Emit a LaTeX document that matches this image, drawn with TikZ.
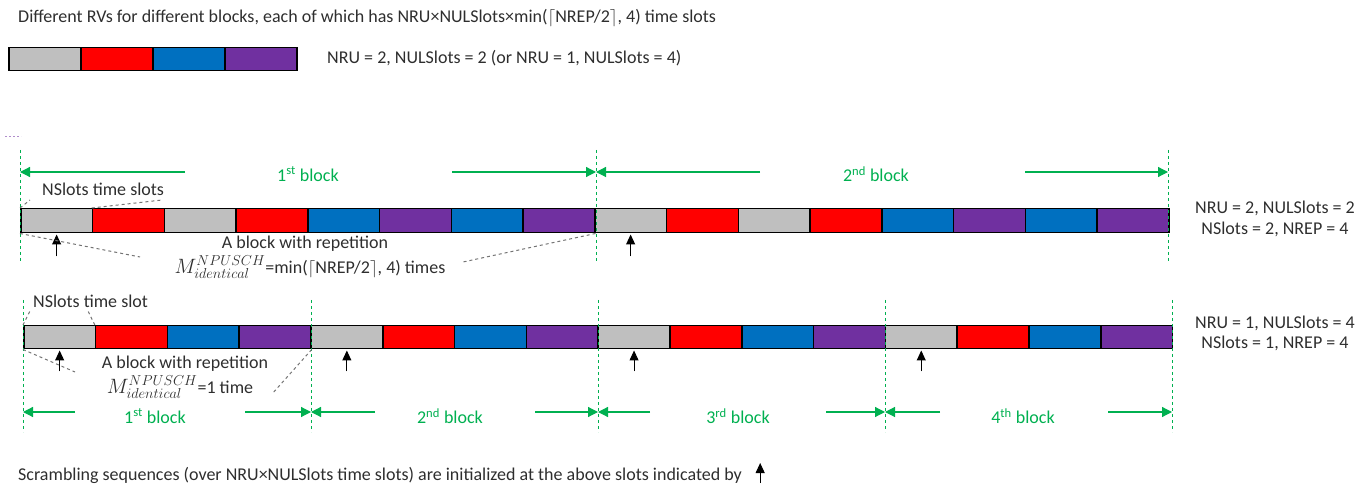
\documentclass[tikz,border=0pt]{standalone}
\usepackage{fontspec}
\setmainfont{Carlito}
\usetikzlibrary{arrows.meta}
\definecolor{cgray}{HTML}{BFBFBF}
\definecolor{cred}{HTML}{FF0000}
\definecolor{cblue}{HTML}{0070C0}
\definecolor{cpurple}{HTML}{7030A0}
\definecolor{cgreen}{HTML}{00B050}
\definecolor{ctext}{HTML}{2E2E2E}
\newcommand{\bigM}{{\fontsize{22}{24}\selectfont$M^{NPUSCH}_{identical}$}}
\begin{document}
\begin{tikzpicture}[x=1pt,y=-1pt, font=\fontsize{18}{21}\selectfont, text=ctext,
 cell/.style={draw=black, line width=1.5pt, inner sep=0pt, anchor=north west},
 gdash/.style={draw=cgreen, line width=0.8pt, dash pattern=on 3pt off 3pt},
 garr/.style={draw=cgreen, line width=1.2pt, -{Triangle[length=10pt,width=10pt]}},
 glabel/.style={text=cgreen, inner sep=0pt},
 kdash/.style={draw=black!55, line width=1pt, dash pattern=on 3pt off 3pt},
 uparr/.style={draw=black, line width=1pt, -{Triangle[length=10pt,width=9pt]}},
 txt/.style={inner sep=0pt}]
\useasboundingbox (0,0) rectangle (1369,486);

% title
\node[txt, anchor=west] (title) at (18,18) {Different RVs for different blocks, each of which has NRU×NULSlots×min($\lceil$NREP/2$\rceil$, 4) time slots};

% legend bar
\foreach \c [count=\i from 0] in {cgray,cred,cblue,cpurple}
  \node[cell, fill=\c, minimum width=72pt, minimum height=23pt] (l\i) at ({8+72*\i},47) {};
\node[txt, anchor=west] (legtxt) at (327,58) {NRU = 2, NULSlots = 2 (or NRU = 1, NULSlots = 4)};

% stray purple dashes
\draw[draw=cpurple!55, line width=0.8pt, dash pattern=on 2pt off 2pt] (5,136) -- (21,136);

% ---------- Row 1 ----------
\foreach \c [count=\i from 0] in {cgray,cred,cgray,cred,cblue,cpurple,cblue,cpurple,cgray,cred,cgray,cred,cblue,cpurple,cblue,cpurple}
  \node[cell, fill=\c, minimum width=71.75pt, minimum height=24pt] (a\i) at ({20+71.75*\i},208) {};

\coordinate (v1a) at (20,150);  \coordinate (v1b) at (20,262);
\coordinate (v2a) at (596,150); \coordinate (v2b) at (596,262);
\coordinate (v3a) at (1168,150); \coordinate (v3b) at (1168,262);
\draw[gdash] (v1a) -- (v1b);
\draw[gdash] (v2a) -- (v2b);
\draw[gdash] (v3a) -- (v3b);

\node[glabel] (b1) at (308,174) {1\textsuperscript{st} block};
\node[glabel] (b2) at (876,174) {2\textsuperscript{nd} block};
\draw[garr] (185,172) -- (v1a |- 0,172);
\draw[garr] (452,172) -- (v2a |- 0,172);
\draw[garr] (760,172) -- (v2a |- 0,172);
\draw[garr] (1025,172) -- (v3a |- 0,172);

\node[txt, anchor=west] (ns1) at (42,189) {NSlots time slots};
\draw[kdash] (a0.north west) -- (30,200);
\draw[kdash] (a1.north west) -- (162,200);

\draw[uparr] ([yshift=-23pt]a0.south) -- ([yshift=-1pt]a0.south);
\draw[uparr] ([yshift=-23pt]a8.south) -- ([yshift=-1pt]a8.south);

\node[txt] (rep1) at (305,244) {A block with repetition};
\node[txt] (mid1) at (310,267) {\bigM=min($\lceil$NREP/2$\rceil$, 4) times};
\draw[kdash] (a0.south west) -- (140,257);
\draw[kdash] (a7.south east) -- (463,262);

\node[txt, align=center, font=\fontsize{18}{21}\selectfont] (r1lab) at (1275,219) {NRU = 2, NULSlots = 2\\NSlots = 2, NREP = 4};

% ---------- Row 2 ----------
\foreach \c [count=\i from 0] in {cgray,cred,cblue,cpurple,cgray,cred,cblue,cpurple,cgray,cred,cblue,cpurple,cgray,cred,cblue,cpurple}
  \node[cell, fill=\c, minimum width=71.8pt, minimum height=23pt] (c\i) at ({23+71.8*\i},325) {};

\foreach \x [count=\k] in {23,311,598,885,1172} {
  \coordinate (w\k a) at (\x,300); \coordinate (w\k b) at (\x,432);
  \draw[gdash] (w\k a) -- (w\k b);
}

\node[glabel] (d1) at (155,416) {1\textsuperscript{st} block};
\node[glabel] (d2) at (450,416) {2\textsuperscript{nd} block};
\node[glabel] (d3) at (738,416) {3\textsuperscript{rd} block};
\node[glabel] (d4) at (1023,416) {4\textsuperscript{th} block};
\draw[garr] (75,412) -- (w1a |- 0,412);
\draw[garr] (245,412) -- (w2a |- 0,412);
\draw[garr] (375,412) -- (w2a |- 0,412);
\draw[garr] (535,412) -- (w3a |- 0,412);
\draw[garr] (650,412) -- (w3a |- 0,412);
\draw[garr] (826,412) -- (w4a |- 0,412);
\draw[garr] (940,412) -- (w4a |- 0,412);
\draw[garr] (1108,412) -- (w5a |- 0,412);

\node[txt, anchor=west] (ns2) at (33,301) {NSlots time slot};
\draw[kdash] (c0.north west) -- (30,311);
\draw[kdash] (c1.north west) -- (88,311);

\foreach \j in {0,4,8,12}
  \draw[uparr] ([yshift=-22pt]c\j.south) -- ([yshift=-1pt]c\j.south);

\node[txt] (rep2) at (185,364) {A block with repetition};
\node[txt] (mid2) at (180,387) {\bigM=1 time};
\draw[kdash] (c0.south west) -- (75,372);
\draw[kdash] (c3.south east) -- (272,394);

\node[txt, align=center, font=\fontsize{18}{20}\selectfont] (r2lab) at (1275,333) {NRU = 1, NULSlots = 4\\NSlots = 1, NREP = 4};

% bottom note
\node[txt, anchor=west] (note) at (18,475) {Scrambling sequences (over NRU×NULSlots time slots) are initialized at the above slots indicated by};
\coordinate (na) at ([xshift=18pt,yshift=-8pt]note.east);
\coordinate (nb) at ([xshift=18pt,yshift=12pt]note.east);
\draw[uparr] (na) -- (nb);
\end{tikzpicture}
\end{document}
